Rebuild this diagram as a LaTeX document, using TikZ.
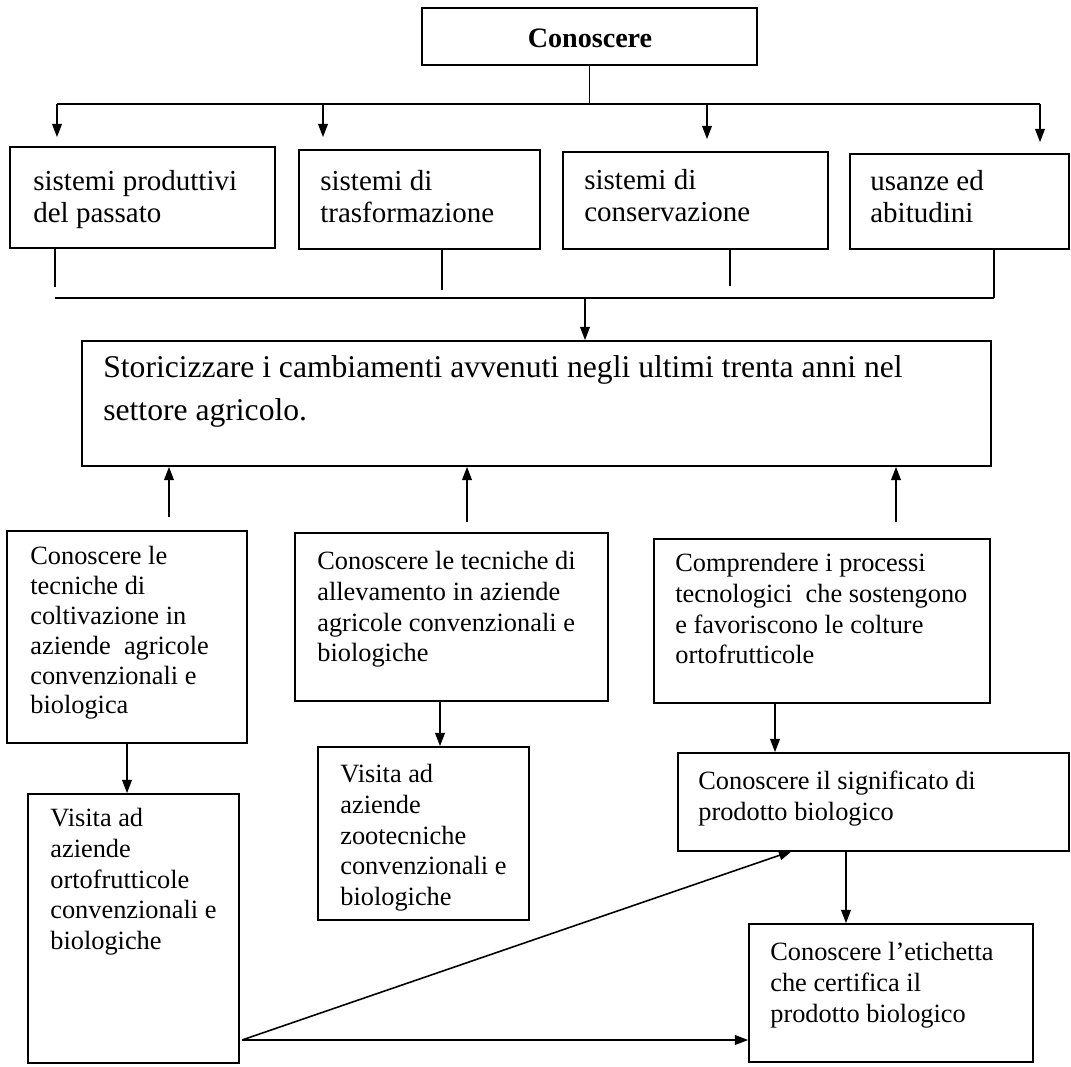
\documentclass[tikz,border=0pt]{standalone}
\usepackage{fontspec}
\setmainfont{Liberation Serif}
\usetikzlibrary{arrows.meta,calc}
\begin{document}
\begin{tikzpicture}[x=0.02cm,y=-0.02cm,
  box/.style={draw,line width=1pt,inner sep=0pt},
  lbl/.style={anchor=north west,inner sep=0pt,align=left},
  arr/.style={-{Triangle[length=7.5pt,width=5.5pt]},line width=0.9pt},
  ln/.style={line width=0.9pt},
  fR/.style={font={\fontsize{16.5pt}{18pt}\selectfont}},
  fB/.style={font={\fontsize{15pt}{17.5pt}\selectfont}}]
\fill[white] (0,0) rectangle (1071,1067);
\useasboundingbox (0,0) rectangle (1071,1067);
% boxes
\node[box,minimum width=6.70cm,minimum height=1.14cm] (top) at (589.5,36.5) {};
\node[box,minimum width=5.30cm,minimum height=2.02cm] (r1) at (142.5,197.5) {};
\node[box,minimum width=4.82cm,minimum height=1.98cm] (r2) at (419.5,199.5) {};
\node[box,minimum width=5.30cm,minimum height=1.94cm] (r3) at (695.5,200.5) {};
\node[box,minimum width=4.38cm,minimum height=1.90cm] (r4) at (959.5,201.5) {};
\node[box,minimum width=18.18cm,minimum height=2.50cm] (st) at (536.5,403.5) {};
\node[box,minimum width=4.80cm,minimum height=4.24cm] (A) at (127,637) {};
\node[box,minimum width=6.26cm,minimum height=3.36cm] (B) at (451.5,617) {};
\node[box,minimum width=6.72cm,minimum height=3.28cm] (C) at (822,621) {};
\node[box,minimum width=4.22cm,minimum height=3.46cm] (F) at (423.5,833.5) {};
\node[box,minimum width=4.22cm,minimum height=5.38cm] (E) at (133.5,928.5) {};
\node[box,minimum width=7.82cm,minimum height=1.96cm] (D) at (873.5,802) {};
\node[box,minimum width=5.68cm,minimum height=2.76cm] (G) at (891,993) {};
% texts
\node[font={\bfseries\fontsize{16pt}{18pt}\selectfont},inner sep=0pt] (ttop) at (590,38) {Conoscere};
\node[lbl,fR] (t1) at (33,170) {sistemi produttivi\\del passato};
\node[lbl,fR] (t2) at (320,170) {sistemi di\\trasformazione};
\node[lbl,fR] (t3) at (584,169) {sistemi di\\conservazione};
\node[lbl,fR] (t4) at (870,170) {usanze ed\\abitudini};
\node[lbl,font={\fontsize{18pt}{24.5pt}\selectfont}] (tst) at (103,355) {Storicizzare i cambiamenti avvenuti negli ultimi trenta anni nel\\settore agricolo.};
\node[lbl,font={\fontsize{15pt}{17pt}\selectfont}] (tA) at (30,546) {Conoscere le\\tecniche di\\coltivazione in\\aziende\ \ agricole\\convenzionali e\\biologica};
\node[lbl,fB] (tB) at (317,551) {Conoscere le tecniche di\\allevamento in aziende\\agricole convenzionali e\\biologiche};
\node[lbl,fB] (tC) at (675,553) {Comprendere i processi\\tecnologici\ \ che sostengono\\e favoriscono le colture\\ortofrutticole};
\node[lbl,fB] (tF) at (340,764) {Visita ad\\aziende\\zootecniche\\convenzionali e\\biologiche};
\node[lbl,fB] (tE) at (50,808) {Visita ad\\aziende\\ortofrutticole\\convenzionali e\\biologiche};
\node[lbl,fB] (tD) at (698,771) {Conoscere il significato di\\prodotto biologico};
\node[lbl,fB] (tG) at (770,942) {Conoscere l’etichetta\\che certifica il\\prodotto biologico};
% top bus
\coordinate (busL) at (57,104);
\coordinate (busR) at (1040,104);
\draw[ln] (top.south) -- (top.south |- busL);
\draw[ln] (busL) -- (busR);
\coordinate (d1) at (57,104);
\coordinate (d2) at (323,104);
\coordinate (d3) at (707,104);
\coordinate (d4) at (1040,104);
\draw[arr,shorten >=0.18cm] (d1) -- (d1 |- r1.north);
\draw[arr,shorten >=0.24cm] (d2) -- (d2 |- r2.north);
\draw[arr,shorten >=0.24cm] (d3) -- (d3 |- r3.north);
\draw[arr,shorten >=0.22cm] (d4) -- (d4 |- r4.north);
% collector
\coordinate (u1) at (55,287);
\coordinate (u2) at (442,290);
\coordinate (u3) at (730,286);
\coordinate (u4) at (994,298);
\draw[ln] (r1.south -| u1) -- (u1);
\draw[ln] (r2.south -| u2) -- (u2);
\draw[ln] (r3.south -| u3) -- (u3);
\draw[ln] (r4.south -| u4) -- (u4);
\coordinate (cL) at (55,298);
\draw[ln] (cL) -- (u4);
\coordinate (c0) at (585,298);
\draw[arr] (c0) -- (c0 |- st.north);
% up arrows
\coordinate (ua) at (169,517);
\coordinate (ub) at (467,522);
\coordinate (uc) at (896,522);
\draw[arr] (ua) -- (ua |- st.south);
\draw[arr] (ub) -- (ub |- st.south);
\draw[arr] (uc) -- (uc |- st.south);
% lower arrows
\draw[arr] (A.south) -- (A.south |- E.north);
\coordinate (bf) at (440,701);
\draw[arr] (bf) -- (bf |- F.north);
\coordinate (cd) at (775,703);
\draw[arr] (cd) -- (cd |- D.north);
\coordinate (dg) at (846,851);
\draw[arr] (dg) -- (dg |- G.north);
\coordinate (ej) at (242,1040);
\coordinate (dj) at (792,851);
\draw[arr] (ej) -- (dj);
\draw[arr] (ej) -- (ej -| G.west);
\end{tikzpicture}
\end{document}
